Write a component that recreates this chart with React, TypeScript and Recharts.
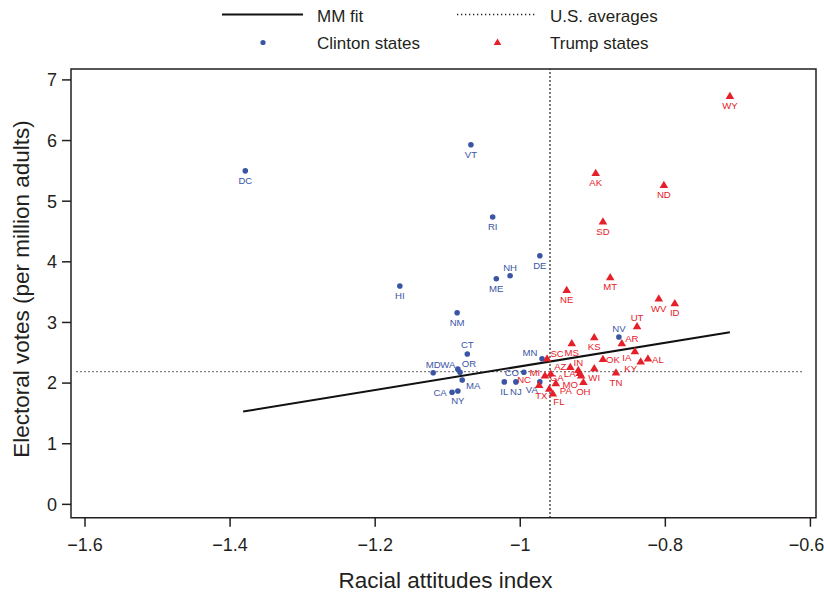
import React from 'react';
import { ScatterChart, Scatter, XAxis, YAxis, ReferenceLine, ReferenceArea } from 'recharts';

// ---------- data ----------
const clintonStates = ['DC','VT','RI','DE','NH','ME','HI','NM','CT','MD','WA','OR','MA','CA','NY','IL','NJ','CO','MN','VA','NV'];
const clintonIndex = [-1.379,-1.068,-1.038,-0.973,-1.014,-1.033,-1.166,-1.087,-1.073,-1.120,-1.086,-1.083,-1.080,-1.094,-1.086,-1.022,-1.006,-0.995,-0.970,-0.973,-0.864];
const clintonVotes = [5.50,5.93,4.74,4.10,3.77,3.72,3.60,3.16,2.48,2.17,2.23,2.18,2.05,1.85,1.87,2.02,2.02,2.18,2.40,2.02,2.76];

const trumpStates = ['WY','AK','ND','SD','MT','WV','ID','NE','UT','KS','AR','MS','SC','IA','AL','KY','OK','WI','TN','AZ','IN','LA','MO','OH','MI','GA','NC','TX','PA','FL'];
const trumpIndex = [-0.711,-0.896,-0.802,-0.886,-0.876,-0.809,-0.787,-0.936,-0.839,-0.898,-0.860,-0.929,-0.963,-0.842,-0.824,-0.834,-0.886,-0.898,-0.868,-0.931,-0.920,-0.918,-0.916,-0.913,-0.966,-0.958,-0.974,-0.960,-0.951,-0.955];
const trumpVotes = [6.74,5.47,5.27,4.67,3.75,3.40,3.32,3.54,2.94,2.76,2.66,2.66,2.41,2.53,2.41,2.36,2.40,2.25,2.18,2.27,2.22,2.17,2.13,2.02,2.13,2.16,1.97,1.91,2.00,1.83];

const fitIndex = [-1.382, -0.711];
const fitVotes = [1.53, 2.84];

const usAverageIndex = -0.959;
const usAverageVotes = 2.19;
const usAverageSpan = [-1.612, -0.61];

const xTicks = [-1.6, -1.4, -1.2, -1, -0.8, -0.6];
const yTicks = [0, 1, 2, 3, 4, 5, 6, 7];
const xDomain = [-1.6193, -0.5923];
const yDomain = [-0.22, 7.18];

const legendLabels = ['MM fit', 'U.S. averages', 'Clinton states', 'Trump states'];
const xTitle = 'Racial attitudes index';
const yTitle = 'Electoral votes (per million adults)';

// ---------- label placement (style, px offsets from the marker) ----------
const labelOffsets: Record<string, [number, number]> = {
  NH: [0, -8], CT: [0, -9], MD: [0, -8], WA: [-10, -5], OR: [9, -9], MA: [11, 6],
  CA: [-12, 0], CO: [-12, 0], MN: [-12, -6], VA: [-8, 8], NV: [0, -8],
  UT: [0, -8], AR: [10, -4], SC: [10, -5], IA: [-8, 7], AL: [10, 1], KY: [-10, 7],
  OK: [10, 1], AZ: [-10, 0], IN: [0, -7], LA: [-10, 1], MO: [-11, 9], MI: [-10, -3],
  GA: [6, 4], NC: [-15, -5], TX: [-8, 7], PA: [10, 8], FL: [6, 8],
};

const BLUE = '#3b55a5';
const RED = '#e6202a';
const INK = '#231f20';
const FONT = '"Liberation Sans", Arial, Helvetica, sans-serif';

const clintonData = clintonStates.map((s, i) => ({ state: s, x: clintonIndex[i], y: clintonVotes[i] }));
const trumpData = trumpStates.map((s, i) => ({ state: s, x: trumpIndex[i], y: trumpVotes[i] }));
const fitData = fitIndex.map((x, i) => ({ x, y: fitVotes[i] }));

const fmt = (v: number) => (v < 0 ? '\u2212' + Math.abs(v) : String(v));

const StateLabel = ({ cx, cy, state, color }: any) => {
  const off = labelOffsets[state] || [0, 10];
  return (
    <text x={cx + off[0]} y={cy + off[1]} dy="0.35em" textAnchor="middle" fontSize={9.6} fill={color} fontFamily={FONT}>
      {state}
    </text>
  );
};

const CircleShape = (props: any) => {
  const { cx, cy, payload } = props;
  return (
    <g>
      <circle cx={cx} cy={cy} r={2.8} fill={BLUE} />
      <StateLabel cx={cx} cy={cy} state={payload.state} color={BLUE} />
    </g>
  );
};

const TriangleShape = (props: any) => {
  const { cx, cy, payload } = props;
  return (
    <g>
      <path d={`M${cx},${cy - 4} L${cx + 4.3},${cy + 3.2} L${cx - 4.3},${cy + 3.2} Z`} fill={RED} />
      <StateLabel cx={cx} cy={cy} state={payload.state} color={RED} />
    </g>
  );
};

const XTick = (props: any) => {
  const { x, y, payload } = props;
  const shift = payload.value === xTicks[xTicks.length - 1] ? -4 : 0;
  return (
    <text x={x + shift} y={y} dy="0.71em" textAnchor="middle" fontSize={18} fill={INK} fontFamily={FONT}>
      {fmt(payload.value)}
    </text>
  );
};

const Legend = () => (
  <svg width={824} height={60} style={{ position: 'absolute', left: 0, top: 0 }}>
    <g fontFamily={FONT} fontSize={17} fill={INK}>
      <line x1={222} x2={303} y1={14.5} y2={14.5} stroke="#111" strokeWidth={2} />
      <text x={317} y={16} dy="0.35em">{legendLabels[0]}</text>
      <line x1={457} x2={537} y1={14.5} y2={14.5} stroke="#222" strokeWidth={1.3} strokeDasharray="1.3 2.7" />
      <text x={550} y={16} dy="0.35em">{legendLabels[1]}</text>
      <circle cx={263} cy={42.5} r={2.6} fill={BLUE} />
      <text x={317} y={43} dy="0.35em">{legendLabels[2]}</text>
      <path d="M497.5,38.5 L501.3,45 L493.7,45 Z" fill={RED} />
      <text x={550} y={43} dy="0.35em">{legendLabels[3]}</text>
    </g>
  </svg>
);

export default function App() {
  const tickStyle = { fill: INK, fontSize: 18, fontFamily: FONT };
  return (
    <div style={{ position: 'absolute', left: 0, top: 0, width: 824, height: 595, background: '#fff' }}>
      <ScatterChart width={824} height={595} margin={{ top: 69, right: 8, bottom: 17.3, left: 11 }}>
        <XAxis
          type="number"
          dataKey="x"
          domain={xDomain}
          ticks={xTicks}
          allowDataOverflow
          height={60}
          axisLine={false}
          tickLine={{ stroke: INK, strokeWidth: 1.5 }}
          tickSize={9}
          tickMargin={12}
          tick={XTick}
          interval={0}
          label={{
            content: ({ viewBox }: any) => (
              <text x={viewBox.x + viewBox.width / 2 + 2} y={viewBox.y + 70.5} textAnchor="middle" fontSize={22.5} fill={INK} fontFamily={FONT}>
                {xTitle}
              </text>
            ),
          }}
        />
        <YAxis
          type="number"
          dataKey="y"
          domain={yDomain}
          ticks={yTicks}
          allowDataOverflow
          width={60}
          axisLine={false}
          tickLine={{ stroke: INK, strokeWidth: 1.5 }}
          tickSize={9}
          tickMargin={5}
          tick={tickStyle}
          interval={0}
          label={{
            content: () => {
              const cx = 29;
              const cy = 289;
              return (
                <text x={cx} y={cy} transform={`rotate(-90, ${cx}, ${cy})`} textAnchor="middle" fontSize={22.5} fill={INK} fontFamily={FONT}>
                  {yTitle}
                </text>
              );
            },
          }}
        />
        <ReferenceArea x1={xDomain[0]} x2={xDomain[1]} y1={yDomain[0]} y2={yDomain[1]} fill="none" stroke={INK} strokeWidth={1.5} ifOverflow="visible" />
        <ReferenceLine x={usAverageIndex} stroke="#111" strokeWidth={1.5} strokeDasharray="1.5 2.5" />
        <ReferenceLine
          segment={[{ x: usAverageSpan[0], y: usAverageVotes }, { x: usAverageSpan[1], y: usAverageVotes }]}
          stroke="#555"
          strokeWidth={1.2}
          strokeDasharray="1.5 2.5"
        />
        <Scatter data={fitData} line={{ stroke: '#111', strokeWidth: 2 }} shape={() => <g />} isAnimationActive={false} />
        <Scatter data={clintonData} shape={CircleShape} isAnimationActive={false} />
        <Scatter data={trumpData} shape={TriangleShape} isAnimationActive={false} />
      </ScatterChart>
      <Legend />
    </div>
  );
}
